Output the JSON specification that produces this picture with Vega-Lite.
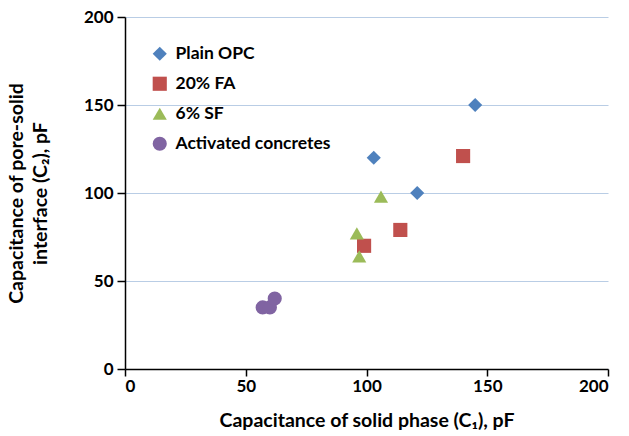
{
  "$schema": "https://vega.github.io/schema/vega-lite/v6.json",
  "width": 483,
  "height": 352,
  "autosize": {"type": "none"},
  "padding": {"left": 125, "top": 17, "right": 21, "bottom": 67},
  "background": "white",
  "config": {
    "view": {"stroke": null},
    "font": "Lato"
  },
  "data": {
    "values": [
      {"series": "Plain OPC", "c1": 103, "c2": 120},
      {"series": "Plain OPC", "c1": 121, "c2": 100},
      {"series": "Plain OPC", "c1": 145, "c2": 150},
      {"series": "20% FA", "c1": 99, "c2": 70},
      {"series": "20% FA", "c1": 114, "c2": 79},
      {"series": "20% FA", "c1": 140, "c2": 121},
      {"series": "6% SF", "c1": 96, "c2": 77},
      {"series": "6% SF", "c1": 97, "c2": 64},
      {"series": "6% SF", "c1": 106, "c2": 98},
      {"series": "Activated concretes", "c1": 57, "c2": 35},
      {"series": "Activated concretes", "c1": 60, "c2": 35},
      {"series": "Activated concretes", "c1": 62, "c2": 40}
    ]
  },
  "mark": {"type": "point", "filled": true, "opacity": 1, "size": 200},
  "encoding": {
    "x": {
      "field": "c1", "type": "quantitative",
      "scale": {"domain": [0, 200], "nice": false},
      "axis": {
        "title": "Capacitance of solid phase (C₁), pF",
        "values": [0, 50, 100, 150, 200],
        "grid": false,
        "domainColor": "black", "domainWidth": 1.5,
        "tickColor": "black", "tickWidth": 1.5, "tickSize": 7,
        "labelFont": "Lato", "labelFontSize": 17, "labelFontWeight": "bold", "labelColor": "black",
        "labelPadding": 2,
        "titleFont": "Lato", "titleFontSize": 19.5, "titleFontWeight": "bold", "titleColor": "black",
        "titlePadding": 17
      }
    },
    "y": {
      "field": "c2", "type": "quantitative",
      "scale": {"domain": [0, 200], "nice": false},
      "axis": {
        "title": ["Capacitance of pore-solid", "interface (C₂), pF"],
        "values": [0, 50, 100, 150, 200],
        "grid": true, "gridColor": "#B9CDE5", "gridWidth": 1.2,
        "domainColor": "black", "domainWidth": 1.5,
        "tickColor": "black", "tickWidth": 1.5, "tickSize": 8,
        "labelFont": "Lato", "labelFontSize": 17, "labelFontWeight": "bold", "labelColor": "black",
        "labelPadding": 4,
        "titleFont": "Lato", "titleFontSize": 19.5, "titleFontWeight": "bold", "titleColor": "black",
        "titlePadding": 33, "titleLineHeight": 24
      }
    },
    "color": {
      "field": "series", "type": "nominal",
      "scale": {
        "domain": ["Plain OPC", "20% FA", "6% SF", "Activated concretes"],
        "range": ["#4F81BD", "#C0504D", "#9BBB59", "#8064A2"]
      },
      "legend": {
        "title": null,
        "orient": "none",
        "legendX": 26,
        "legendY": 28,
        "padding": 0,
        "symbolSize": 200,
        "symbolStrokeWidth": 0,
        "labelFont": "Lato", "labelFontSize": 17.5, "labelFontWeight": "bold", "labelColor": "black",
        "labelOffset": 7,
        "rowPadding": 11
      }
    },
    "shape": {
      "field": "series", "type": "nominal",
      "scale": {
        "domain": ["Plain OPC", "20% FA", "6% SF", "Activated concretes"],
        "range": ["diamond", "square", "triangle-up", "circle"]
      },
      "legend": null
    }
  }
}
